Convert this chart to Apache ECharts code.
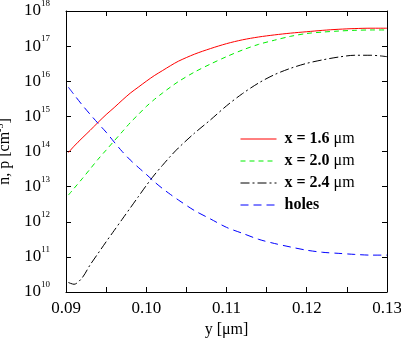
<!DOCTYPE html>
<html>
<head>
<meta charset="utf-8">
<script src="https://cdn.jsdelivr.net/npm/echarts@6/dist/echarts.min.js"></script>
<style>html,body{margin:0;padding:0;background:#fff}#c{width:401px;height:340px}</style>
</head>
<body>
<div id="c"></div>
<script>
// x positions (y [µm])
var xVals = [0.0903, 0.091, 0.092, 0.093, 0.094, 0.095, 0.096, 0.097, 0.098, 0.099, 0.100, 0.101, 0.102, 0.103, 0.104, 0.106, 0.108, 0.110, 0.112, 0.114, 0.116, 0.118, 0.120, 0.122, 0.124, 0.126, 0.128, 0.130];
// decimal exponents (log10 of concentration in cm^-3)
var red16Log = [13.97, 14.15, 14.38, 14.60, 14.83, 15.05, 15.25, 15.46, 15.66, 15.83, 16.00, 16.16, 16.30, 16.44, 16.57, 16.77, 16.93, 17.07, 17.18, 17.26, 17.32, 17.37, 17.41, 17.45, 17.48, 17.50, 17.51, 17.51];
var green20Log = [12.76, 12.95, 13.22, 13.50, 13.78, 14.04, 14.30, 14.56, 14.82, 15.05, 15.28, 15.48, 15.66, 15.83, 15.99, 16.26, 16.49, 16.70, 16.89, 17.05, 17.17, 17.28, 17.36, 17.40, 17.43, 17.45, 17.46, 17.46];
var black24Log = [10.27, 10.22, 10.40, 10.77, 11.10, 11.43, 11.75, 12.07, 12.39, 12.71, 13.03, 13.33, 13.60, 13.86, 14.10, 14.52, 14.90, 15.30, 15.65, 15.95, 16.19, 16.37, 16.51, 16.61, 16.69, 16.74, 16.74, 16.70];
var holesLog = [15.83, 15.62, 15.33, 15.06, 14.80, 14.55, 14.27, 14.00, 13.76, 13.55, 13.35, 13.14, 12.95, 12.78, 12.62, 12.32, 12.08, 11.84, 11.67, 11.50, 11.38, 11.28, 11.19, 11.13, 11.10, 11.07, 11.05, 11.05];
var seriesNames = ['x = 1.6', 'x = 2.0', 'x = 2.4', 'holes'];
var xTickLabels = ['0.09', '0.10', '0.11', '0.12', '0.13'];

function pts(logs) {
  return xVals.map(function (x, i) { return [x, Math.pow(10, logs[i])]; });
}
var FONT = 'Liberation Serif';
var chart = echarts.init(document.getElementById('c'), null, {renderer: 'canvas'});
var axisCommon = {
  axisLine: {show: true, lineStyle: {color: '#000', width: 1}},
  axisTick: {show: true, inside: true, length: 5, lineStyle: {color: '#000', width: 1}},
  splitLine: {show: false}
};
var supRich = {
  b: {fontFamily: FONT, fontSize: 17, color: '#000'},
  s: {fontFamily: FONT, fontSize: 9, color: '#000', padding: [0, 0, 14, 0]}
};
function lineSeries(name, logs, color, type) {
  return {
    name: name, type: 'line', data: pts(logs), symbol: 'none', showSymbol: false,
    smooth: 0.3, animation: false,
    lineStyle: {color: color, width: 1, type: type},
    itemStyle: {color: color}
  };
}
chart.setOption({
  animation: false,
  backgroundColor: '#fff',
  grid: {left: 66, right: 14, top: 11, bottom: 48, containLabel: false, outerBoundsMode: 'none'},
  legend: {
    orient: 'vertical', left: 240, top: 131, padding: 0,
    itemWidth: 36, itemHeight: 14, itemGap: 6,
    itemStyle: {opacity: 0},
    lineStyle: {width: 1},
    data: seriesNames,
    formatter: function (n) { return n === 'holes' ? '{b|holes}' : '{b|' + n + '} {u|\u03bcm}'; },
    textStyle: {
      fontFamily: FONT, fontSize: 16, color: '#000', padding: [0, 0, 0, 3], lineHeight: 14,
      rich: {
        b: {fontFamily: FONT, fontSize: 16, fontWeight: 'bold', color: '#000', lineHeight: 14},
        u: {fontFamily: FONT, fontSize: 16, color: '#000', lineHeight: 14}
      }
    }
  },
  xAxis: [
    Object.assign({}, axisCommon, {
      type: 'value', min: 0.09, max: 0.13, interval: 0.005, position: 'bottom',
      name: 'y [\u03bcm]', nameLocation: 'middle', nameGap: 27,
      nameTextStyle: {fontFamily: FONT, fontSize: 16, color: '#000'},
      axisLabel: {
        interval: 0, margin: 8, fontFamily: FONT, fontSize: 17, color: '#000',
        formatter: function (v) {
          var k = Math.round(v * 100);
          if (Math.abs(v * 100 - k) > 1e-6) return '';
          var s = (k / 100).toFixed(2);
          return xTickLabels.indexOf(s) >= 0 ? s : '';
        }
      }
    }),
    Object.assign({}, axisCommon, {
      type: 'value', min: 0.09, max: 0.13, interval: 0.005, position: 'top',
      axisLabel: {show: false}
    })
  ],
  yAxis: [
    Object.assign({}, axisCommon, {
      type: 'log', logBase: 10, min: 1e10, max: 1e18, position: 'left',
      minorTick: {show: false},
      name: '{t|n, p [cm}{s|-3}{t|]}', nameLocation: 'middle', nameGap: 50, nameRotate: 90,
      nameTextStyle: {
        fontFamily: FONT, fontSize: 16, color: '#000',
        rich: {
          t: {fontFamily: FONT, fontSize: 16, color: '#000'},
          s: {fontFamily: FONT, fontSize: 10, color: '#000', padding: [0, 0, 10, 0]}
        }
      },
      axisLabel: {
        margin: 16, fontFamily: FONT, fontSize: 17, color: '#000',
        formatter: function (v) {
          var e = Math.round(Math.log(v) / Math.LN10);
          return '{b|10}{s|' + e + '}';
        },
        rich: supRich
      }
    }),
    Object.assign({}, axisCommon, {
      type: 'log', logBase: 10, min: 1e10, max: 1e18, position: 'right',
      axisLabel: {show: false}
    })
  ],
  series: [
    lineSeries(seriesNames[0], red16Log, '#ff0000', 'solid'),
    lineSeries(seriesNames[1], green20Log, '#00ee00', [5, 4]),
    lineSeries(seriesNames[2], black24Log, '#000000', [9, 3, 2, 3]),
    lineSeries(seriesNames[3], holesLog, '#0000ff', [8, 5])
  ]
});
</script>
</body>
</html>
